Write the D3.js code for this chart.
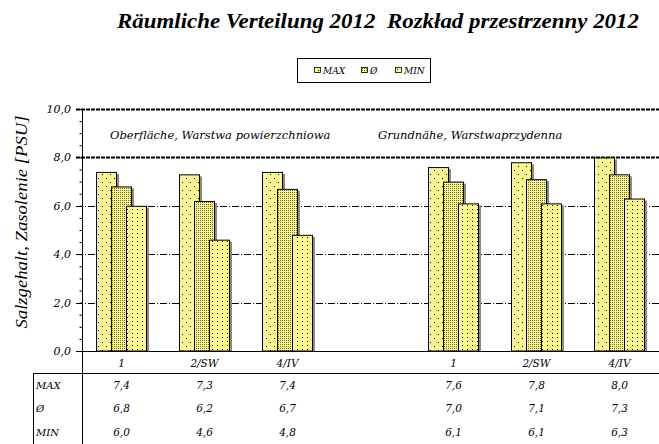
<!DOCTYPE html>
<html lang="de">
<head>
<meta charset="utf-8">
<title>Räumliche Verteilung 2012</title>
<script src="https://d3js.org/d3.v7.min.js"></script>
<style>
  body { margin: 0; background: #fff; }
  text { font-family: "DejaVu Serif", serif; font-style: italic; fill: #000; white-space: pre; }
</style>
</head>
<body>
<div id="chart"></div>
<script>
// data
var layers = ["Oberfläche, Warstwa powierzchniowa", "Grundnähe, Warstwaprzydenna"];
var stations = ["1", "2/SW", "4/IV"];
var series = ["MAX", "Ø", "MIN"];
var maxValues = [7.4, 7.3, 7.4, 7.6, 7.8, 8.0];
var meanValues = [6.8, 6.2, 6.7, 7.0, 7.1, 7.3];
var minValues = [6.0, 4.6, 4.8, 6.1, 6.1, 6.3];
var yTicks = [0, 2, 4, 6, 8, 10];

var W = 659, H = 444;
var svg = d3.select("#chart").append("svg")
    .attr("width", W).attr("height", H);

// patterns for the bar fills
var defs = svg.append("defs");
function pattern(id, w, h, dots, dotColor) {
  var p = defs.append("pattern").attr("id", id)
      .attr("patternUnits", "userSpaceOnUse")
      .attr("width", w).attr("height", h);
  p.append("rect").attr("width", w).attr("height", h).attr("fill", "#fcf78f");
  dots.forEach(function(d) {
    p.append("rect").attr("x", d[0]).attr("y", d[1]).attr("width", 1).attr("height", 1)
      .attr("fill", dotColor);
  });
}
pattern("pMax", 8, 8, [[2, 2], [6, 6]], "#000");
pattern("pMean", 2, 2, [[0, 0]], "#6b6840");
pattern("pMin", 5, 4, [[2, 1]], "#000");
var fills = {"MAX": "url(#pMax)", "Ø": "url(#pMean)", "MIN": "url(#pMin)"};
var values = {"MAX": maxValues, "Ø": meanValues, "MIN": minValues};

// one slot per station, with an empty slot between the two layers
var keys = [];
layers.forEach(function(l, li) {
  if (li > 0) keys.push("gap");
  stations.forEach(function(s) { keys.push(li + "|" + s); });
});
var dataKeys = keys.filter(function(k) { return k != "gap"; });

var x = d3.scaleBand().domain(keys).range([80, 661]);
var y = d3.scaleLinear().domain([0, 10]).range([351, 109]);
var axisX = 82;

// title
svg.append("text")
    .attr("x", 117).attr("y", 28)
    .attr("textLength", 522).attr("lengthAdjust", "spacingAndGlyphs")
    .style("font-family", "'Liberation Serif', serif")
    .style("font-weight", "bold")
    .style("font-size", "20px")
    .text("Räumliche Verteilung 2012  Rozkład przestrzenny 2012");

// legend
var lg = svg.append("g");
lg.append("rect").attr("x", 297.5).attr("y", 58.5).attr("width", 133).attr("height", 24)
    .attr("fill", "#fff").attr("stroke", "#000").attr("stroke-width", 1);
var legendX = [314, 361, 395];
series.forEach(function(s, i) {
  lg.append("rect").attr("x", legendX[i] + 0.5).attr("y", 67.5).attr("width", 6).attr("height", 5)
      .attr("fill", fills[s]).attr("stroke", "#000").attr("stroke-width", 0.8);
  lg.append("text").attr("x", legendX[i] + 9).attr("y", 74)
      .style("font-size", "9px").text(s);
});

// gridlines
yTicks.filter(function(t) { return t > 0; }).forEach(function(t) {
  var heavy = t >= 8;
  svg.append("line")
      .attr("x1", 76).attr("x2", W)
      .attr("y1", Math.round(y(t)) + 0.5).attr("y2", Math.round(y(t)) + 0.5)
      .attr("stroke", "#000")
      .attr("stroke-width", heavy ? 2 : 1)
      .attr("stroke-dasharray", heavy ? "4,1" : "7,2,1,2");
});

// layer labels
layers.forEach(function(l, li) {
  var first = x(li + "|" + stations[0]);
  svg.append("text")
      .attr("x", first + (li == 0 ? 30 : -34)).attr("y", 139)
      .style("font-size", "11.5px")
      .text(l);
});

// bars
var barW = 21, step = 15;
series.forEach(function(s, si) {
  var g = svg.append("g");
  dataKeys.forEach(function(k, i) {
    var cx = x(k) + x.bandwidth() / 2;
    var left = cx - (barW + 2 * step) / 2 + si * step;
    var v = values[s][i];
    g.append("rect")
        .attr("x", left + 2).attr("y", y(v) + 2)
        .attr("width", barW).attr("height", y(0) - y(v) - 2)
        .attr("fill", "#8a8a8a");
    g.append("rect")
        .attr("x", left + 0.5).attr("y", y(v) + 0.5)
        .attr("width", barW - 1).attr("height", y(0) - y(v) - 0.5)
        .attr("fill", fills[s]).attr("stroke", "#000").attr("stroke-width", 1);
  });
});

// y axis
var yAxis = d3.axisLeft(y).tickValues(d3.range(0, 10.01, 0.5)).tickSize(3).tickFormat("");
svg.append("g").attr("transform", "translate(" + (axisX + 0.5) + ",0)")
    .call(yAxis)
    .call(function(g) { g.select(".domain").remove(); g.selectAll("line").attr("stroke", "#000"); });
svg.append("line").attr("x1", axisX + 0.5).attr("x2", axisX + 0.5)
    .attr("y1", y(10)).attr("y2", H).attr("stroke", "#000");
svg.append("line").attr("x1", 76).attr("x2", axisX)
    .attr("y1", y(0) + 0.5).attr("y2", y(0) + 0.5).attr("stroke", "#000");

yTicks.forEach(function(t) {
  svg.append("text")
      .attr("x", 71).attr("y", y(t) + 4)
      .attr("text-anchor", "end")
      .style("font-size", "11px")
      .text(d3.format(".1f")(t).replace(".", ","));
});

// category axis line
svg.append("line").attr("x1", axisX).attr("x2", W)
    .attr("y1", y(0) + 0.5).attr("y2", y(0) + 0.5).attr("stroke", "#000");

// y axis title
svg.append("text")
    .attr("transform", "translate(27," + 222 + ") rotate(-90)")
    .attr("text-anchor", "middle")
    .attr("textLength", 213).attr("lengthAdjust", "spacingAndGlyphs")
    .style("font-family", "'Liberation Serif', serif")
    .style("font-size", "16px")
    .text("Salzgehalt, Zasolenie [PSU]");

// category labels
dataKeys.forEach(function(k) {
  svg.append("text")
      .attr("x", x(k) + x.bandwidth() / 2).attr("y", 367)
      .attr("text-anchor", "middle")
      .style("font-size", "10.5px")
      .text(k.split("|")[1]);
});

// data table
svg.append("line").attr("x1", 33).attr("x2", W).attr("y1", 373.5).attr("y2", 373.5).attr("stroke", "#000");
svg.append("line").attr("x1", 33.5).attr("x2", 33.5).attr("y1", 373).attr("y2", H).attr("stroke", "#000");
var rowY = [389, 412, 436];
series.forEach(function(s, si) {
  svg.append("text").attr("x", 36).attr("y", rowY[si])
      .style("font-size", "10px").text(s);
  dataKeys.forEach(function(k, i) {
    svg.append("text")
        .attr("x", x(k) + x.bandwidth() / 2).attr("y", rowY[si])
        .attr("text-anchor", "middle")
        .style("font-size", "10.5px")
        .text(d3.format(".1f")(values[s][i]).replace(".", ","));
  });
});
</script>
</body>
</html>
